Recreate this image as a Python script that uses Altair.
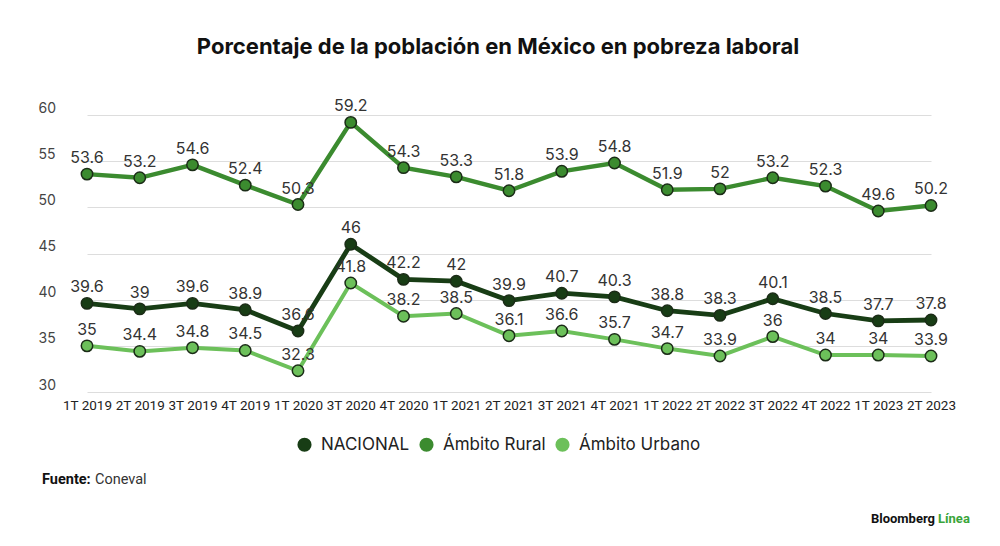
import altair as alt
import pandas as pd

periods = ["1T 2019", "2T 2019", "3T 2019", "4T 2019", "1T 2020", "3T 2020", "4T 2020",
           "1T 2021", "2T 2021", "3T 2021", "4T 2021", "1T 2022", "2T 2022", "3T 2022",
           "4T 2022", "1T 2023", "2T 2023"]
nacional = [39.6, 39, 39.6, 38.9, 36.6, 46, 42.2, 42, 39.9, 40.7, 40.3, 38.8, 38.3, 40.1, 38.5, 37.7, 37.8]
rural = [53.6, 53.2, 54.6, 52.4, 50.3, 59.2, 54.3, 53.3, 51.8, 53.9, 54.8, 51.9, 52, 53.2, 52.3, 49.6, 50.2]
urbano = [35, 34.4, 34.8, 34.5, 32.3, 41.8, 38.2, 38.5, 36.1, 36.6, 35.7, 34.7, 33.9, 36, 34, 34, 33.9]

series_names = ["NACIONAL", "Ámbito Rural", "Ámbito Urbano"]
series_colors = ["#183d15", "#3b8b2f", "#6cc05a"]

rows = []
for name, vals in zip(series_names, [nacional, rural, urbano]):
    for p, v in zip(periods, vals):
        rows.append({"periodo": p, "serie": name, "valor": v, "etiqueta": f"{v:g}"})
df = pd.DataFrame(rows)

FONT = "Inter"

x = alt.X("periodo:N", sort=periods,
          scale=alt.Scale(range=[49, 893], padding=0),
          axis=alt.Axis(title=None, labelAngle=0, ticks=False, domain=False, grid=False,
                        labelFont="Roboto", labelFontSize=13.5, labelColor="#222222",
                        labelPadding=6, labelOverlap=False))
y = alt.Y("valor:Q", scale=alt.Scale(domain=[30, 60], nice=False, zero=False),
          axis=alt.Axis(title=None, values=[30, 35, 40, 45, 50, 55, 60], ticks=False,
                        domain=False, grid=True, gridColor="#dddddd", gridWidth=1,
                        labelFont=FONT, labelFontSize=14, labelColor="#444444",
                        labelAlign="left", labelBaseline="alphabetic", labelPadding=0,
                        labelOffset=-3))

stroke_scale = alt.Scale(domain=series_names, range=series_colors)

base = alt.Chart(df)

lines = base.mark_line().encode(
    x=x, y=y,
    stroke=alt.Stroke("serie:N", scale=stroke_scale, legend=None),
    strokeWidth=alt.StrokeWidth("serie:N", scale=alt.Scale(domain=series_names, range=[4.8, 4, 3.6]), legend=None),
    detail="serie:N",
)

points = base.mark_circle(size=130, opacity=1, stroke="#1b2c17", strokeWidth=1.5).encode(
    x=x, y=y,
    fill=alt.Fill("serie:N", scale=stroke_scale,
                  legend=alt.Legend(title=None, orient="none", direction="horizontal",
                                    legendX=258, legendY=321, symbolType="circle",
                                    symbolSize=200, symbolStrokeWidth=0, symbolOpacity=1,
                                    labelFont=FONT, labelFontSize=17, labelColor="#222222",
                                    columnPadding=8, labelOffset=8)),
)

labels = base.mark_text(font=FONT, fontSize=16, color="#333333", baseline="alphabetic",
                        dy=-11).encode(x=x, y=y, text="etiqueta:N")

fuente_b = alt.Chart(pd.DataFrame({"t": ["Fuente:"]})).mark_text(
    font="Roboto", fontSize=14.5, fontWeight="bold", color="#111111", align="left",
    baseline="middle").encode(x=alt.value(4), y=alt.value(365), text="t:N")
fuente_r = alt.Chart(pd.DataFrame({"t": ["Coneval"]})).mark_text(
    font="Roboto", fontSize=14.5, color="#333333", align="left",
    baseline="middle").encode(x=alt.value(57), y=alt.value(365), text="t:N")
bl_b = alt.Chart(pd.DataFrame({"t": ["Bloomberg"]})).mark_text(
    font="Roboto", fontSize=13, fontWeight="bold", color="#111111", align="right",
    baseline="middle").encode(x=alt.value(897), y=alt.value(404), text="t:N")
bl_g = alt.Chart(pd.DataFrame({"t": ["Línea"]})).mark_text(
    font="Roboto", fontSize=13, fontWeight="bold", color="#3aa53a", align="left",
    baseline="middle").encode(x=alt.value(900), y=alt.value(404), text="t:N")

chart = alt.layer(lines, points, labels, fuente_b, fuente_r, bl_b, bl_g).resolve_scale(
    fill="independent", stroke="independent"
).properties(
    width=920, height=277,
    autosize=alt.AutoSizeParams(type="none"),
    padding={"left": 30, "top": 107, "right": 34, "bottom": 146},
    title=alt.Title("Porcentaje de la población en México en pobreza laboral",
                    font="Inter", fontSize=22, fontWeight="bold", color="#111111",
                    anchor="middle", offset=39),
).configure(background="white").configure_view(stroke=None)

chart.save("out.html", embed_options={"renderer": "svg", "actions": False})
